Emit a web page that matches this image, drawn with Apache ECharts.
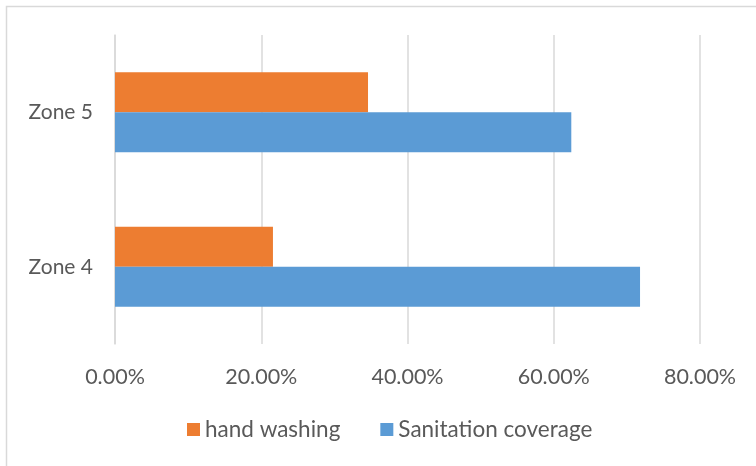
<!DOCTYPE html>
<html><head><meta charset="utf-8">
<script src="https://cdn.jsdelivr.net/npm/echarts@6/dist/echarts.min.js"></script>
<style>html,body{margin:0;padding:0;background:#fff}#c{width:756px;height:466px}</style>
</head><body><div id="c"></div>
<script>
const categories = ['Zone 4', 'Zone 5'];
const handWashing = [21.6, 34.6];
const sanitation = [71.8, 62.4];
const xTicks = [0, 20, 40, 60, 80];

const font = 'Lato';
const chart = echarts.init(document.getElementById('c'));
chart.setOption({
  animation: false,
  textStyle: { fontFamily: font },
  graphic: [{ type: 'rect', shape: { x: 6.5, y: 6.5, width: 800, height: 800 },
    style: { fill: 'none', stroke: '#d9d9d9', lineWidth: 1.5 }, silent: true }],
  grid: { left: 115, right: 56, top: 35, bottom: 122 },
  legend: {
    data: ['hand washing', 'Sanitation coverage'],
    bottom: 25, left: 187, padding: 0, itemWidth: 13, itemHeight: 13, itemGap: 40,
    icon: 'rect',
    textStyle: { color: '#595959', fontSize: 22.5, fontFamily: font }
  },
  xAxis: {
    type: 'value', min: xTicks[0], max: xTicks[xTicks.length - 1], interval: 20,
    axisLine: { show: false }, axisTick: { show: false },
    splitLine: { lineStyle: { color: '#d9d9d9', width: 1.5 } },
    axisLabel: { color: '#595959', fontSize: 21.5, margin: 22, fontFamily: font,
      formatter: v => v.toFixed(2) + '%' }
  },
  yAxis: {
    type: 'category', data: categories,
    axisLine: { show: true, lineStyle: { color: '#d9d9d9', width: 1.5 } },
    axisTick: { show: false },
    axisLabel: { color: '#595959', fontSize: 21, margin: 22, fontFamily: font }
  },
  series: [
    { name: 'hand washing', type: 'bar', data: handWashing, barWidth: 40, barGap: '0%',
      itemStyle: { color: '#ED7D31' } },
    { name: 'Sanitation coverage', type: 'bar', data: sanitation, barWidth: 40, barGap: '0%',
      itemStyle: { color: '#5B9BD5' } }
  ]
});
</script></body></html>
